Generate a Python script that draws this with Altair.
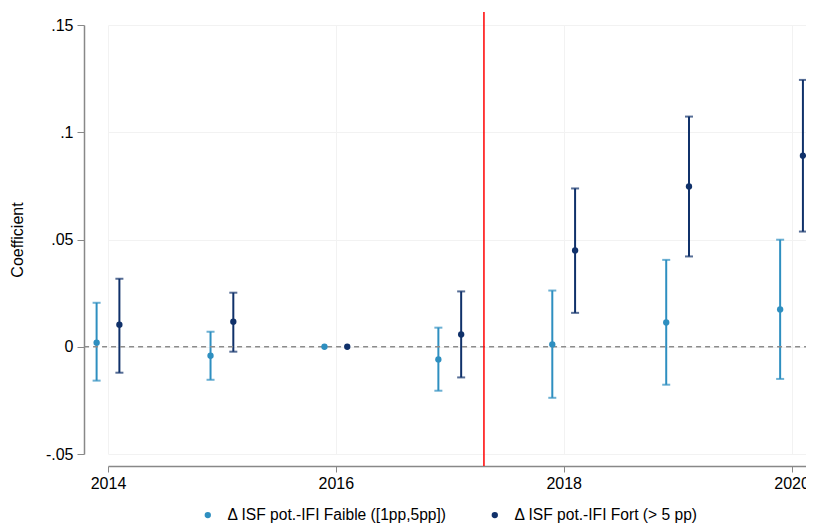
import altair as alt
import pandas as pd

years = [2014, 2015, 2016, 2017, 2018, 2019, 2020]
faible_coef = [0.0019, -0.0042, 0.0, -0.0059, 0.0011, 0.0113, 0.0174]
faible_lo = [-0.0158, -0.0154, 0.0, -0.0205, -0.0238, -0.0177, -0.0150]
faible_hi = [0.0205, 0.0070, 0.0, 0.0089, 0.0262, 0.0405, 0.0499]
fort_coef = [0.0103, 0.0117, 0.0, 0.0057, 0.0449, 0.0747, 0.0891]
fort_lo = [-0.0121, -0.0023, 0.0, -0.0143, 0.0158, 0.0421, 0.0537]
fort_hi = [0.0317, 0.0252, 0.0, 0.0258, 0.0738, 0.1073, 0.1244]
series_names = ["Δ ISF pot.-IFI Faible ([1pp,5pp])", "Δ ISF pot.-IFI Fort (> 5 pp)"]
series_offset = [-0.1, 0.1]
series_colors = ["#2e8fc0", "#10316a"]
event_x = [2017.3]
event_y = [0.1561]
event_y2 = [-0.0556]
zero_x = [2013.79]
zero_x2 = [2020.127]

rows = []
for name, off, coef, lo, hi in [
    (series_names[0], series_offset[0], faible_coef, faible_lo, faible_hi),
    (series_names[1], series_offset[1], fort_coef, fort_lo, fort_hi),
]:
    for y, c, l, h in zip(years, coef, lo, hi):
        rows.append({"x": y + off, "serie": name, "coef": c, "lo": l, "hi": h,
                     "has_ci": l != h})
df = pd.DataFrame(rows)
ci = df[df["has_ci"]]

FONT = "Liberation Sans"
xscale = alt.Scale(domain=[2014, 2020.127], nice=False, zero=False)
yscale = alt.Scale(domain=[-0.05, 0.15], nice=False, zero=False)
color = alt.Color("serie:N", scale=alt.Scale(domain=series_names, range=series_colors),
                  legend=alt.Legend(title=None, orient="none", direction="horizontal",
                                    legendX=92, legendY=482,
                                    symbolType="circle", symbolSize=40, symbolOpacity=1,
                                    labelFontSize=15.6, labelFont=FONT, labelOffset=12,
                                    labelColor="#000000", columnPadding=40,
                                    symbolStrokeWidth=0, labelLimit=400))

xax = alt.X("x:Q", scale=xscale,
            axis=alt.Axis(title=None, values=[2014, 2016, 2018, 2020], format="d",
                          offset=12, labelFontSize=16, labelFont=FONT,
                          labelColor="#000000", tickSize=6, tickColor="#888888",
                          domainColor="#888888", domainWidth=1.5, labelPadding=3,
                          grid=True, gridColor="#f2f2f2", labelFlush=False))

base = alt.Chart(df)

zero_line = alt.Chart(pd.DataFrame({"x": zero_x, "x2": zero_x2, "y": [0.0]})).mark_rule(
    color="#8c8c8c", strokeDash=[5, 4], strokeWidth=1.5, clip=False).encode(
    x=alt.X("x:Q", scale=xscale), x2="x2:Q", y=alt.Y("y:Q", scale=yscale))

event = alt.Chart(pd.DataFrame({"x": event_x, "y": event_y, "y2": event_y2})).mark_rule(
    color="#ff0000", strokeWidth=1.5, clip=False).encode(
    x=alt.X("x:Q", scale=xscale), y=alt.Y("y:Q", scale=yscale), y2="y2:Q")

whisk = alt.Chart(ci).mark_rule(strokeWidth=2, clip=False).encode(
    x=xax,
    y=alt.Y("lo:Q", scale=yscale,
            axis=alt.Axis(title="Coefficient", values=[-0.05, 0, 0.05, 0.1, 0.15],
                          labelExpr="datum.value == 0 ? '0' : (datum.value < 0 ? '-' : '') + replace(format(abs(datum.value), '.2~f'), '0.', '.')",
                          offset=24, labelFontSize=16, labelFont=FONT,
                          labelColor="#000000", tickSize=7, tickColor="#888888",
                          domainColor="#888888", domainWidth=1.5, labelPadding=4,
                          titleFontSize=16, titleFont=FONT, titleFontWeight="normal",
                          titleColor="#000000", titlePadding=20,
                          grid=True, gridColor="#f2f2f2")),
    y2="hi:Q",
    color=color)

cap_lo = alt.Chart(ci).mark_tick(orient="horizontal", size=8, thickness=2, clip=False).encode(
    x=alt.X("x:Q", scale=xscale), y=alt.Y("lo:Q", scale=yscale), color=color)
cap_hi = alt.Chart(ci).mark_tick(orient="horizontal", size=8, thickness=2, clip=False).encode(
    x=alt.X("x:Q", scale=xscale), y=alt.Y("hi:Q", scale=yscale), color=color)

pts = base.mark_circle(size=40, opacity=1, clip=False).encode(
    x=alt.X("x:Q", scale=xscale), y=alt.Y("coef:Q", scale=yscale), color=color)

chart = alt.layer(whisk, zero_line, event, cap_lo, cap_hi, pts).properties(
    width=698, height=429,
    autosize=alt.AutoSizeParams(type="none"),
    padding={"left": 100, "top": 17, "right": 0, "bottom": 70},
    background="#ffffff",
).configure_view(stroke=None)

chart.save("out.html", embed_options={"renderer": "svg", "actions": False})
